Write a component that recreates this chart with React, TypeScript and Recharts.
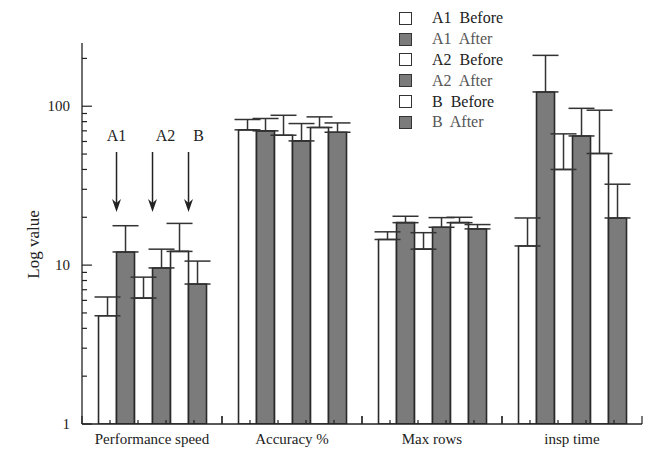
import React from 'react';
import { BarChart, Bar, XAxis, YAxis, ErrorBar, LabelList, Legend, ReferenceLine } from 'recharts';

const categories = ['Performance speed', 'Accuracy %', 'Max rows', 'insp time'];

const a1Before = [4.8, 71, 14.5, 13.2];
const a1BeforeErr = [1.5, 11.5, 1.7, 6.6];
const a1After = [12.1, 70, 18.5, 123];
const a1AfterErr = [5.6, 13.7, 1.8, 86];
const a2Before = [6.2, 65.7, 12.6, 40];
const a2BeforeErr = [2.2, 22, 3.4, 27];
const a2After = [9.6, 60.5, 17.3, 65];
const a2AfterErr = [3.0, 17.3, 2.6, 32];
const bBefore = [12.2, 73.5, 18.5, 50.4];
const bBeforeErr = [6.1, 12.2, 1.5, 44];
const bAfter = [7.6, 68.6, 16.9, 19.8];
const bAfterErr = [3.0, 9.9, 1.1, 12.5];

const seriesNames = ['A1 Before', 'A1 After', 'A2 Before', 'A2 After', 'B Before', 'B After'];
const arrowLabels = ['A1', 'A2', 'B'];

const yMajorTicks = [1, 10, 100];
const yAllTicks = [1, 2, 3, 4, 5, 6, 7, 8, 9, 10, 20, 30, 40, 50, 60, 70, 80, 90, 100, 200];
const xTicksPerCategory = 5;

const WHITE = '#ffffff';
const GRAY = '#7b7b7b';
const INK = '#222';
const FONT = '"Liberation Serif", "DejaVu Serif", serif';

const data = categories.map((cat, i) => ({
  cat,
  a1b: a1Before[i], a1bE: [0, a1BeforeErr[i]],
  a1a: a1After[i], a1aE: [0, a1AfterErr[i]],
  a2b: a2Before[i], a2bE: [0, a2BeforeErr[i]],
  a2a: a2After[i], a2aE: [0, a2AfterErr[i]],
  bb: bBefore[i], bbE: [0, bBeforeErr[i]],
  ba: bAfter[i], baE: [0, bAfterErr[i]],
}));

const series = [
  { key: 'a1b', name: seriesNames[0], fill: WHITE, arrow: 0 },
  { key: 'a1a', name: seriesNames[1], fill: GRAY, arrow: -1 },
  { key: 'a2b', name: seriesNames[2], fill: WHITE, arrow: 1 },
  { key: 'a2a', name: seriesNames[3], fill: GRAY, arrow: -1 },
  { key: 'bb', name: seriesNames[4], fill: WHITE, arrow: 2 },
  { key: 'ba', name: seriesNames[5], fill: GRAY, arrow: -1 },
];

const arrowTextDx = [0, 13, 10];

const CHART_W = 652;
const PLOT_LEFT = 82;
const PLOT_RIGHT_MARGIN = 10;
const BAND = (CHART_W - PLOT_LEFT - PLOT_RIGHT_MARGIN) / categories.length;

const makeArrow = (idx: number) => (props: any) => {
  if (props.index !== 0) return null;
  const x = Number(props.x) + Number(props.width);
  const y0 = 152;
  const y1 = 212;
  return (
    <g>
      <text x={x + arrowTextDx[idx]} y={141} textAnchor="middle" fontFamily={FONT} fontSize={16} fill={INK}>
        {arrowLabels[idx]}
      </text>
      <line x1={x} y1={y0} x2={x} y2={y1 - 6} stroke={INK} strokeWidth={1.5} />
      <polygon points={`${x - 4.5},${y1 - 13} ${x},${y1} ${x + 4.5},${y1 - 13} ${x},${y1 - 9}`} fill={INK} />
    </g>
  );
};

const YTick = (props: any) => {
  const x = Number(props.x);
  const y = Number(props.y);
  const v = Number(props.payload?.value);
  const major = yMajorTicks.includes(v);
  return (
    <g>
      <line x1={x + 12} y1={y} x2={x + 12 + (major ? 10 : 5)} y2={y} stroke={INK} strokeWidth={1.2} />
      {major && (
        <text x={x} y={y} textAnchor="end" dominantBaseline="central" fontFamily={FONT} fontSize={15} fill={INK}>
          {v}
        </text>
      )}
    </g>
  );
};

const XTickShape = (p: any) => {
  const x0 = Number(p.x1);
  const yb = Math.max(Number(p.y1), Number(p.y2));
  const step = BAND / xTicksPerCategory;
  const marks = [];
  for (let k = 0; k <= xTicksPerCategory; k++) {
    const major = k === 0 || k === xTicksPerCategory;
    const len = major ? 8 : 4;
    const tx = x0 + k * step;
    marks.push(<line key={k} x1={tx} y1={yb} x2={tx} y2={yb - len} stroke={INK} strokeWidth={1.2} />);
  }
  return <g>{marks}</g>;
};

const YLabel = (props: any) => {
  const vb = props.viewBox || { x: 0, y: 43, width: 82, height: 381 };
  const cx = 33;
  const cy = vb.y + vb.height / 2 + 11;
  return (
    <text x={cx} y={cy} transform={`rotate(-90 ${cx} ${cy})`} textAnchor="middle" dominantBaseline="central" fontFamily={FONT} fontSize={17} fill={INK}>
      Log value
    </text>
  );
};

const LegendBox = () => (
  <div style={{ fontFamily: FONT, fontSize: 16, color: INK }}>
    {series.map((s) => (
      <div key={s.key} style={{ display: 'flex', alignItems: 'center', height: 20.8 }}>
        <div style={{ width: 11, height: 11, border: '1.5px solid #333', background: s.fill, marginRight: 20 }} />
        <span style={{ color: s.fill === GRAY ? '#555' : INK, whiteSpace: 'pre' }}>{s.name.replace(' ', '  ')}</span>
      </div>
    ))}
  </div>
);

export default function App() {
  return (
    <div style={{ position: 'absolute', left: 0, top: 0, width: 652, height: 458, background: '#fff' }}>
      <BarChart
        width={CHART_W}
        height={458}
        data={data}
        margin={{ top: 43, right: PLOT_RIGHT_MARGIN, bottom: 0, left: 0 }}
        barCategoryGap="11.8%"
        barGap={0}
      >
        <XAxis
          xAxisId="x"
          dataKey="cat"
          height={34}
          axisLine={{ stroke: INK, strokeWidth: 1.3 }}
          tickLine={false}
          tick={{ fontFamily: FONT, fontSize: 15, fill: INK }}
          tickSize={6}
          tickMargin={3}
          interval={0}
        />
        <YAxis
          yAxisId="y"
          scale="log"
          domain={[1, 250]}
          ticks={yAllTicks}
          interval={0}
          allowDataOverflow
          width={PLOT_LEFT}
          axisLine={{ stroke: INK, strokeWidth: 1.3 }}
          tickLine={false}
          tickSize={0}
          tickMargin={12}
          tick={YTick}
          label={{ value: 'Log value', content: YLabel }}
        />
        <Legend
          layout="horizontal"
          verticalAlign="middle"
          align="center"
          wrapperStyle={{ position: 'absolute', top: 8, left: 399, width: 150, height: 126 }}
          content={() => <LegendBox />}
        />
        {series.map((s) => (
          <Bar
            key={s.key}
            xAxisId="x"
            yAxisId="y"
            dataKey={s.key}
            name={s.name}
            fill={s.fill}
            stroke="#2a2a2a"
            strokeWidth={1.6}
            isAnimationActive={false}
          >
            <ErrorBar dataKey={`${s.key}E`} width={13} stroke="#333" strokeWidth={1.5} direction="y" />
            {s.arrow >= 0 && <LabelList dataKey={s.key} content={makeArrow(s.arrow)} />}
          </Bar>
        ))}
        {categories.map((c) => (
          <ReferenceLine key={`x${c}`} xAxisId="x" yAxisId="y" x={c} position="start" ifOverflow="visible" shape={XTickShape} />
        ))}
      </BarChart>
    </div>
  );
}
